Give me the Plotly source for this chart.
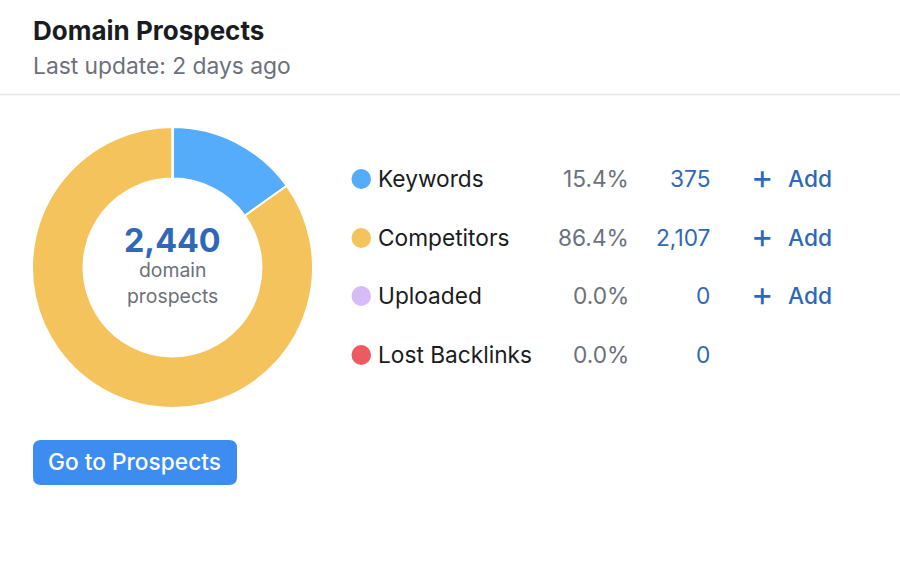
import plotly.graph_objects as go

TITLE = "Domain Prospects"
SUBTITLE = "Last update: 2 days ago"
categories = ["Keywords", "Competitors", "Uploaded", "Lost Backlinks"]
values = [375, 2107, 0, 0]
percent_labels = ["15.4%", "86.4%", "0.0%", "0.0%"]
count_labels = ["375", "2,107", "0", "0"]
has_add = [True, True, True, False]
colors = ["#55ACFA", "#F4C35C", "#D6BCF6", "#EC5B62"]
TOTAL = "2,440"
CENTER_LINES = ["domain", "prospects"]
BUTTON = "Go to Prospects"

W, H = 900, 582
FONT = "Inter"
BLUE = "#2F68B8"
GREY = "#6C717B"
DARK = "#1A1C22"


def fx(px):
    return px / W


def fy(py):
    return 1 - py / H


fig = go.Figure(
    go.Pie(
        labels=categories,
        values=values,
        hole=0.633,
        sort=False,
        direction="clockwise",
        rotation=0,
        marker=dict(colors=colors, line=dict(color="white", width=2)),
        textinfo="none",
        hoverinfo="label+value",
        domain=dict(x=[fx(32), fx(313)], y=[fy(408), fy(127)]),
        showlegend=False,
    )
)

annotations = []
shapes = []


def text(s, x, y, size, color, anchor="left", weight=400):
    dx = {"left": -2, "right": 2.5, "center": 0}[anchor]
    annotations.append(
        dict(
            text=s,
            x=fx(x + dx), y=fy(y - 0.7), xref="paper", yref="paper",
            xanchor=anchor, yanchor="middle",
            showarrow=False,
            font=dict(family=FONT, size=size, color=color, weight=weight),
        )
    )


text(TITLE, 33, 30.7, 26, DARK, weight=700)
text(SUBTITLE, 33, 66, 22.8, GREY)
text(TOTAL, 172.5, 241.5, 32.3, BLUE, anchor="center", weight=700)
text(CENTER_LINES[0], 172.5, 271, 19.4, GREY, anchor="center")
text(CENTER_LINES[1], 172.5, 297, 19.4, GREY, anchor="center")

shapes.append(dict(type="line", xref="paper", yref="paper",
                   x0=0, x1=1, y0=fy(94.5), y1=fy(94.5),
                   line=dict(color="#E4E6E9", width=1.5)))

ROW_Y = [179, 238, 296, 355]
for i, cat in enumerate(categories):
    y = ROW_Y[i]
    shapes.append(dict(type="circle", xref="paper", yref="paper",
                       x0=fx(351.5), x1=fx(371), y0=fy(y + 10), y1=fy(y - 10),
                       fillcolor=colors[i], line=dict(width=0)))
    text(cat, 378, y, 22.7, DARK)
    text(percent_labels[i], 628, y, 22.7, GREY, anchor="right")
    text(count_labels[i], 709, y, 22.7, BLUE, anchor="right")
    if has_add[i]:
        text("+", 762.5, y - 1.5, 34, BLUE, anchor="center")
        text("Add", 788, y, 22.7, BLUE, weight=500)

# rounded button
x0, x1, y0, y1, r = fx(33), fx(237), fy(485), fy(440), 8
rx, ry = r / W, r / H
path = (
    f"M {x0+rx} {y0} L {x1-rx} {y0} Q {x1} {y0} {x1} {y0+ry} "
    f"L {x1} {y1-ry} Q {x1} {y1} {x1-rx} {y1} L {x0+rx} {y1} "
    f"Q {x0} {y1} {x0} {y1-ry} L {x0} {y0+ry} Q {x0} {y0} {x0+rx} {y0} Z"
)
shapes.append(dict(type="path", xref="paper", yref="paper", path=path,
                   fillcolor="#3D8DF0", line=dict(width=0)))
text(BUTTON, 134.5, 462, 22.7, "white", anchor="center", weight=500)

fig.update_layout(
    width=W, height=H,
    margin=dict(l=0, r=0, t=0, b=0),
    paper_bgcolor="white",
    annotations=annotations,
    shapes=shapes,
    font=dict(family=FONT),
)
fig.write_html(
    "out.html",
    config=dict(displayModeBar=False),
    post_script="document.body.style.margin='0';document.documentElement.style.overflow='hidden';",
)
